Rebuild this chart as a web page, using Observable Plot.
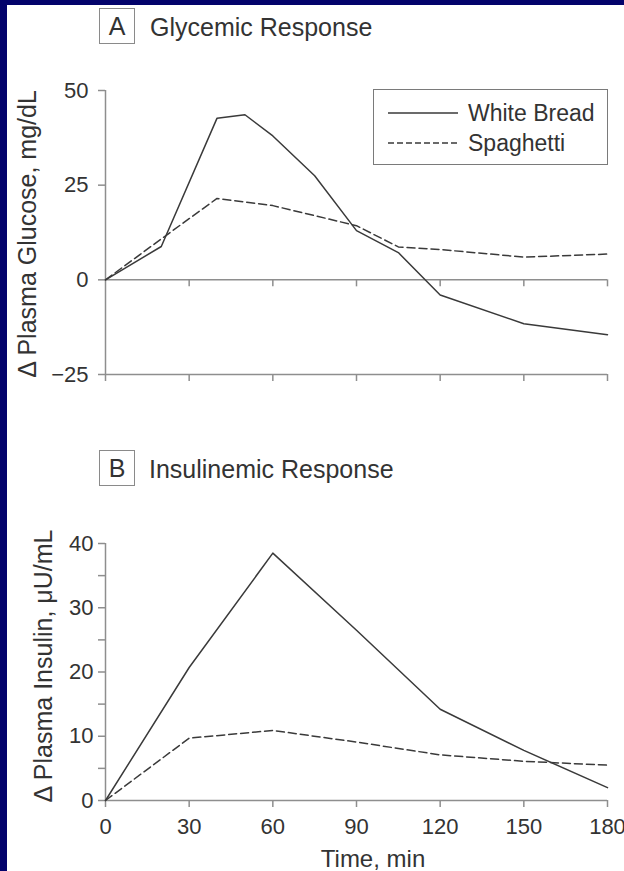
<!DOCTYPE html>
<html>
<head>
<meta charset="utf-8">
<script src="https://cdn.jsdelivr.net/npm/d3@7"></script>
<script src="https://cdn.jsdelivr.net/npm/@observablehq/plot@0.6"></script>
<style>
  html, body { margin: 0; padding: 0; }
  body { background: #03036b; width: 624px; height: 871px; overflow: hidden; position: relative;
         font-family: "Liberation Sans", Arial, Helvetica, sans-serif; color: #333; }
  .abs { position: absolute; white-space: nowrap; line-height: 1; }
  .c { transform: translate(-50%, -50%); }
  .lv { transform: translate(0, -50%); }
  .rot { transform: translate(-50%, -50%) rotate(-90deg); }
  .box { position: absolute; border: 1px solid #8a8a8a; box-sizing: border-box; display: flex;
         align-items: center; justify-content: center; line-height: 1; background: #fff; }
</style>
</head>
<body>
<div class="abs" style="left:7px;top:5px;width:617px;height:866px;background:#fff"></div>
<div id="plotA" class="abs" style="left:0;top:60px"></div>
<div id="plotB" class="abs" style="left:0;top:520px"></div>

<div class="box" style="left:99px;top:8px;width:36px;height:36px;font-size:25px">A</div>
<div class="abs lv" style="left:150px;top:27px;font-size:25px">Glycemic Response</div>
<div class="box" style="left:99px;top:450px;width:36px;height:36px;font-size:25px">B</div>
<div class="abs lv" style="left:149px;top:469px;font-size:25px">Insulinemic Response</div>

<div class="abs rot" style="left:27px;top:234px;font-size:25px">Δ Plasma Glucose, mg/dL</div>
<div class="abs rot" style="left:43px;top:666px;font-size:25px">Δ Plasma Insulin, μU/mL</div>
<div class="abs c" style="left:373px;top:859px;font-size:24px">Time, min</div>

<div id="legend" class="abs" style="left:373px;top:89px;width:235px;height:76px;border:1px solid #7a7a7a;box-sizing:border-box;background:#fff"></div>

<script>
// ---------- data ----------
const xTicks = [0, 30, 60, 90, 120, 150, 180];

// Panel A: glycemic response (Δ plasma glucose, mg/dL)
const glucoseTimeBread = [0, 20, 40, 50, 60, 75, 90, 105, 120, 150, 180];
const glucoseBread     = [0, 8.8, 42.7, 43.6, 38, 27.5, 13, 7.2, -4, -11.6, -14.5];
const glucoseTimeSpag  = [0, 20, 40, 60, 90, 105, 120, 150, 180];
const glucoseSpag      = [0, 10.8, 21.5, 19.6, 14.3, 8.7, 8.0, 6.0, 6.8];
const yTicksA = [50, 25, 0, -25];
const yRulesA = [0, -25];

// Panel B: insulinemic response (Δ plasma insulin, μU/mL)
const insulinTime  = [0, 30, 60, 90, 120, 150, 180];
const insulinBread = [0, 20.7, 38.5, 26.5, 14.2, 7.8, 2.0];
const insulinSpag  = [0, 9.7, 10.9, 9.1, 7.1, 6.1, 5.5];
const yTicksB = [0, 10, 20, 30, 40];
const yMinorB = [5, 15, 25, 35];

const seriesNames = ["White Bread", "Spaghetti"];

// ---------- styling ----------
const axisGray = "#8e8e8e";
const lineColor = "#3a3a3a";
const dash = "8,4";
const font = '"Liberation Sans", Arial, Helvetica, sans-serif';
const baseStyle = { fontSize: "22px", fontFamily: font, color: "#333", background: "transparent", overflow: "visible" };

const rows = (ts, vs) => ts.map((t, i) => ({ t, v: vs[i] }));

const plotA = Plot.plot({
  width: 624, height: 330,
  marginLeft: 105, marginRight: 17, marginTop: 30, marginBottom: 16,
  x: { domain: [0, 180], label: null },
  y: { domain: [-25, 50], label: null },
  style: baseStyle,
  marks: [
    Plot.ruleY(yRulesA, { stroke: axisGray, strokeWidth: 1.5 }),
    Plot.ruleX([0], { stroke: axisGray, strokeWidth: 1.5 }),
    Plot.ruleX(xTicks.slice(1), { x: d => d, y1: () => 0, y2: () => 0, insetBottom: -7, stroke: axisGray, strokeWidth: 1.5 }),
    Plot.axisX(xTicks, { anchor: "bottom", label: null, tickSize: 7, tickFormat: () => "", stroke: axisGray, strokeWidth: 1.5 }),
    Plot.axisY(yTicksA, { anchor: "left", label: null, tickSize: 7, tickPadding: 10, stroke: axisGray, strokeWidth: 1.5 }),
    Plot.line(rows(glucoseTimeSpag, glucoseSpag), { x: "t", y: "v", stroke: lineColor, strokeWidth: 1.5, strokeDasharray: dash }),
    Plot.line(rows(glucoseTimeBread, glucoseBread), { x: "t", y: "v", stroke: lineColor, strokeWidth: 1.5 })
  ]
});
document.getElementById("plotA").appendChild(plotA);

const plotB = Plot.plot({
  width: 624, height: 351,
  marginLeft: 105, marginRight: 17, marginTop: 23, marginBottom: 71,
  x: { domain: [0, 180], label: null },
  y: { domain: [0, 40], label: null },
  style: baseStyle,
  marks: [
    Plot.ruleY([0], { stroke: axisGray, strokeWidth: 1.5 }),
    Plot.ruleX([0], { stroke: axisGray, strokeWidth: 1.5 }),
    Plot.axisX(xTicks, { anchor: "bottom", label: null, tickSize: 7, tickPadding: 11, stroke: axisGray, strokeWidth: 1.5 }),
    Plot.axisY(yTicksB, { anchor: "left", label: null, tickSize: 7, tickPadding: 5, stroke: axisGray, strokeWidth: 1.5 }),
    Plot.axisY(yMinorB, { anchor: "left", label: null, tickSize: 7, tickFormat: () => "", stroke: axisGray, strokeWidth: 1.5 }),
    Plot.line(rows(insulinTime, insulinSpag), { x: "t", y: "v", stroke: lineColor, strokeWidth: 1.5, strokeDasharray: dash }),
    Plot.line(rows(insulinTime, insulinBread), { x: "t", y: "v", stroke: lineColor, strokeWidth: 1.5 })
  ]
});
document.getElementById("plotB").appendChild(plotB);

// ---------- legend ----------
const legend = document.getElementById("legend");
const ns = "http://www.w3.org/2000/svg";
seriesNames.forEach((name, i) => {
  const cy = 23 + i * 30;
  const svg = document.createElementNS(ns, "svg");
  svg.setAttribute("width", 72); svg.setAttribute("height", 10);
  svg.style.position = "absolute"; svg.style.left = "14px"; svg.style.top = (cy - 5) + "px";
  const ln = document.createElementNS(ns, "line");
  ln.setAttribute("x1", 0); ln.setAttribute("x2", 70); ln.setAttribute("y1", 5); ln.setAttribute("y2", 5);
  ln.setAttribute("stroke", lineColor); ln.setAttribute("stroke-width", 1.5);
  if (i === 1) ln.setAttribute("stroke-dasharray", "6,3");
  svg.appendChild(ln);
  legend.appendChild(svg);
  const tx = document.createElement("div");
  tx.className = "abs lv";
  tx.style.left = "94px"; tx.style.top = cy + "px"; tx.style.fontSize = "23px";
  tx.textContent = name;
  legend.appendChild(tx);
});
</script>
</body>
</html>
